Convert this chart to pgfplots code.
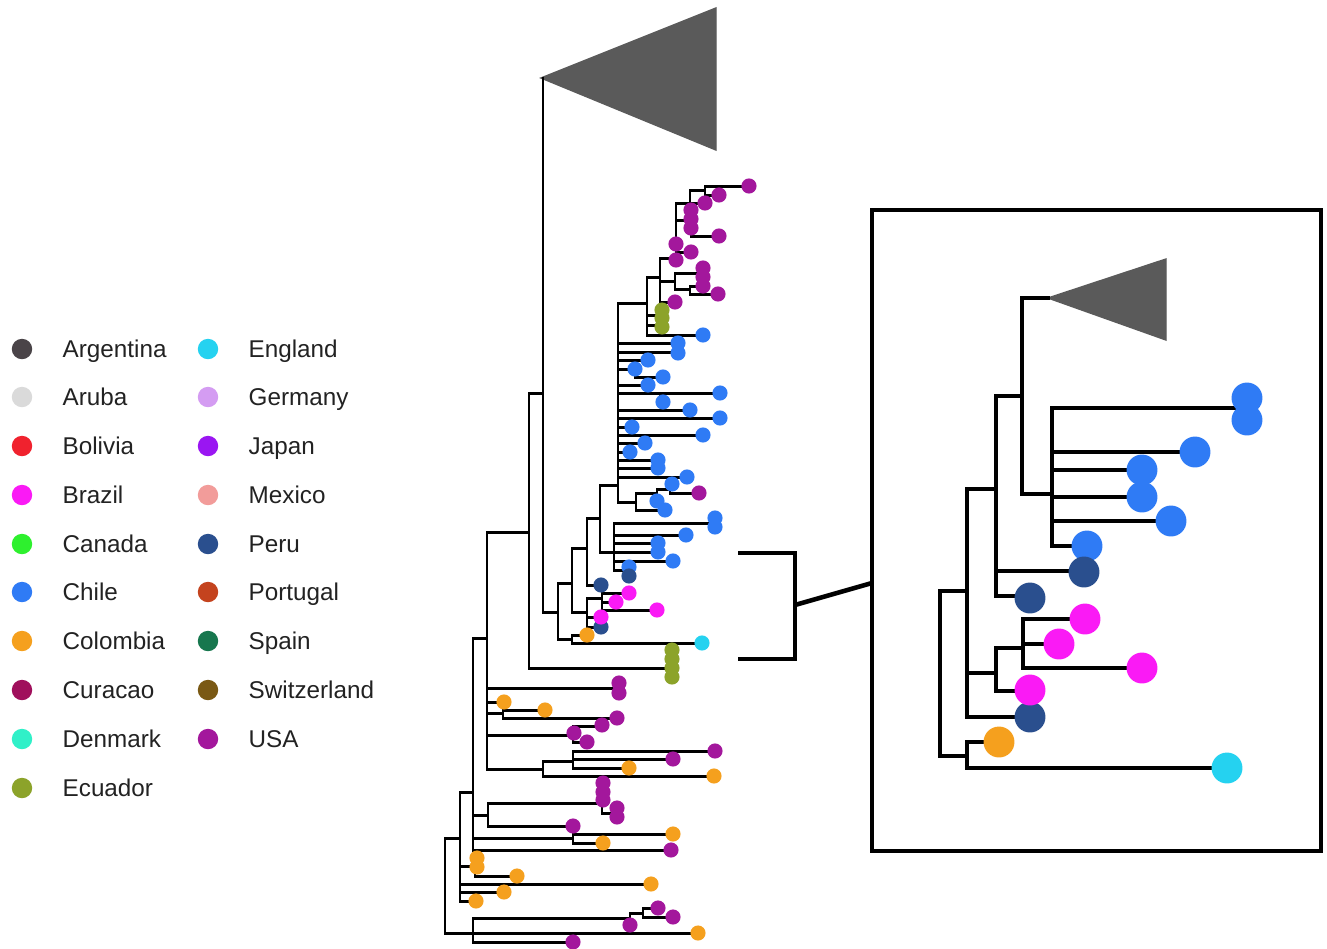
\documentclass[border=0pt]{standalone}
\usepackage{pgfplots}
\pgfplotsset{compat=1.18}
\usepackage{fontspec}
\setmainfont{Liberation Sans}
\definecolor{cArg}{HTML}{4A4448}
\definecolor{cAru}{HTML}{DADADA}
\definecolor{cBol}{HTML}{F0222E}
\definecolor{cBra}{HTML}{FA1AF5}
\definecolor{cCan}{HTML}{2EF02E}
\definecolor{cChi}{HTML}{2F7BF5}
\definecolor{cCol}{HTML}{F5A01E}
\definecolor{cCur}{HTML}{A0105C}
\definecolor{cDen}{HTML}{30F0C8}
\definecolor{cEcu}{HTML}{8CA32A}
\definecolor{cEng}{HTML}{25D2F0}
\definecolor{cGer}{HTML}{D49CF2}
\definecolor{cJap}{HTML}{9A16F2}
\definecolor{cMex}{HTML}{F29C9A}
\definecolor{cPer}{HTML}{2A4F8E}
\definecolor{cPor}{HTML}{C4431E}
\definecolor{cSpa}{HTML}{17774E}
\definecolor{cSwi}{HTML}{7A5914}
\definecolor{cUSA}{HTML}{A3179C}
\definecolor{cTri}{HTML}{5A5A5A}
\definecolor{cTxt}{HTML}{222222}
\pgfplotsset{
  tree/.style={black, line width=0.85pt, line cap=rect, mark=none},
  itree/.style={black, line width=1.3pt, line cap=rect, mark=none},
  dot/.style={only marks, mark=*, color=#1, mark size=1.95pt},
  idot/.style={only marks, mark=*, color=#1, mark size=4.2pt},
  ldot/.style={only marks, mark=*, color=#1, mark size=2.7pt},
}
\begin{document}
\begin{tikzpicture}
\begin{axis}[width=13.27cm, height=9.46cm, scale only axis,
  xmin=0, xmax=1327, ymin=0, ymax=946, y dir=reverse,
  axis lines=none, clip=false, unbounded coords=jump]
\addplot[draw=none, mark=none] coordinates {(0,0) (1327,946)};
% collapsed clade triangles
\addplot[fill=cTri, draw=cTri, mark=none] coordinates {(541,78) (716,8) (716,150)} --cycle;
\addplot[fill=cTri, draw=cTri, mark=none] coordinates {(1048,298) (1166,259) (1166,340)} --cycle;
% main tree
\addplot[tree] coordinates {
(445,838)(445,933) (nan,nan) (445,838)(460,838) (nan,nan) (445,933)(473,933) (nan,nan)
(473,918)(473,942) (nan,nan) (473,918)(630,918) (nan,nan) (630,913)(630,925) (nan,nan)
(630,913)(643,913) (nan,nan) (643,908)(643,917) (nan,nan) (643,908)(658,908) (nan,nan)
(643,917)(673,917) (nan,nan) (473,933)(698,933) (nan,nan) (473,942)(573,942) (nan,nan)
(460,792)(460,901) (nan,nan) (460,792)(473,792) (nan,nan) (460,866)(475,866) (nan,nan)
(475,858)(475,876) (nan,nan) (475,876)(517,876) (nan,nan) (460,884)(651,884) (nan,nan)
(460,892)(504,892) (nan,nan) (460,901)(476,901) (nan,nan)
(473,638)(473,850) (nan,nan) (473,638)(487,638) (nan,nan) (473,815)(488,815) (nan,nan)
(488,803)(488,826) (nan,nan) (488,803)(602,803) (nan,nan) (602,783)(602,813) (nan,nan)
(602,813)(617,813) (nan,nan) (617,808)(617,817) (nan,nan) (488,826)(573,826) (nan,nan)
(473,838)(573,838) (nan,nan) (573,834)(573,843) (nan,nan) (573,834)(673,834) (nan,nan)
(573,843)(603,843) (nan,nan) (473,850)(671,850) (nan,nan)
(487,532)(487,769) (nan,nan) (487,532)(529,532) (nan,nan) (487,688)(619,688) (nan,nan)
(487,702)(504,702) (nan,nan) (487,713)(503,713) (nan,nan) (503,710)(503,718) (nan,nan)
(503,710)(545,710) (nan,nan) (503,718)(617,718) (nan,nan) (487,735)(573,735) (nan,nan)
(573,726)(573,742) (nan,nan) (573,726)(602,726) (nan,nan) (573,742)(587,742) (nan,nan)
(487,769)(543,769) (nan,nan) (543,761)(543,776) (nan,nan) (543,761)(573,761) (nan,nan)
(573,751)(573,768) (nan,nan) (573,751)(715,751) (nan,nan) (573,759)(673,759) (nan,nan)
(573,768)(629,768) (nan,nan) (543,776)(714,776) (nan,nan)
(529,393)(529,668) (nan,nan) (529,393)(543,393) (nan,nan) (529,668)(672,668) (nan,nan)
(543,78)(543,612) (nan,nan) (543,612)(558,612) (nan,nan) (558,583)(558,639) (nan,nan)
(558,583)(572,583) (nan,nan) (572,548)(572,612) (nan,nan) (572,548)(587,548) (nan,nan)
(587,518)(587,585) (nan,nan) (587,518)(600,518) (nan,nan) (600,485)(600,552) (nan,nan)
(600,485)(618,485) (nan,nan) (600,552)(614,552) (nan,nan) (614,523)(614,570) (nan,nan)
(614,523)(714,523) (nan,nan) (714,518)(714,527) (nan,nan) (614,535)(686,535) (nan,nan)
(614,543)(658,543) (nan,nan) (614,552)(658,552) (nan,nan) (614,561)(673,561) (nan,nan)
(614,570)(627,570) (nan,nan) (627,567)(627,576) (nan,nan) (587,585)(601,585) (nan,nan)
(572,612)(587,612) (nan,nan) (587,598)(587,627) (nan,nan) (587,598)(602,598) (nan,nan)
(602,593)(602,610) (nan,nan) (602,593)(629,593) (nan,nan) (602,602)(616,602) (nan,nan)
(602,610)(657,610) (nan,nan) (587,617)(601,617) (nan,nan) (587,627)(601,627) (nan,nan)
(558,639)(572,639) (nan,nan) (572,635)(572,643) (nan,nan) (572,635)(587,635) (nan,nan)
(572,643)(702,643) (nan,nan)
(618,303)(618,502) (nan,nan) (618,303)(647,303) (nan,nan) (618,343)(678,343) (nan,nan)
(618,352)(678,352) (nan,nan) (618,360)(648,360) (nan,nan) (618,369)(635,369) (nan,nan)
(635,369)(635,377) (nan,nan) (635,377)(663,377) (nan,nan) (618,385)(648,385) (nan,nan)
(618,393)(720,393) (nan,nan) (660,393)(660,402) (nan,nan) (618,410)(690,410) (nan,nan)
(618,418)(720,418) (nan,nan) (618,427)(632,427) (nan,nan) (618,435)(703,435) (nan,nan)
(618,443)(645,443) (nan,nan) (618,452)(630,452) (nan,nan) (618,460)(658,460) (nan,nan)
(618,468)(658,468) (nan,nan) (618,477)(687,477) (nan,nan) (618,502)(636,502) (nan,nan)
(636,493)(636,510) (nan,nan) (636,493)(657,493) (nan,nan) (657,489)(657,501) (nan,nan)
(657,489)(670,489) (nan,nan) (670,484)(670,493) (nan,nan) (670,493)(699,493) (nan,nan)
(636,510)(665,510) (nan,nan)
(647,277)(647,335) (nan,nan) (647,277)(660,277) (nan,nan) (647,315)(662,315) (nan,nan)
(647,325)(662,325) (nan,nan) (647,335)(703,335) (nan,nan)
(660,258)(660,302) (nan,nan) (660,258)(676,258) (nan,nan) (660,281)(675,281) (nan,nan)
(660,302)(675,302) (nan,nan) (675,273)(675,289) (nan,nan) (675,273)(703,273) (nan,nan)
(675,289)(690,289) (nan,nan) (690,286)(690,294) (nan,nan) (690,286)(703,286) (nan,nan)
(690,294)(718,294) (nan,nan)
(676,203)(676,260) (nan,nan) (676,203)(705,203) (nan,nan) (690,190)(690,203) (nan,nan)
(690,190)(705,190) (nan,nan) (705,186)(705,195) (nan,nan) (705,186)(749,186) (nan,nan)
(705,195)(719,195) (nan,nan) (676,220)(691,220) (nan,nan) (691,210)(691,236) (nan,nan)
(691,236)(719,236) (nan,nan) (676,252)(691,252)
};
% bracket and connector
\addplot[itree, line cap=butt] coordinates {(738,553)(795,553)(795,659)(738,659)};
\addplot[itree, line cap=butt] coordinates {(795,605)(872,583)};
% inset box
\addplot[itree, line cap=butt] coordinates {(872,210)(1321,210)(1321,851)(872,851)} --cycle;
% inset tree
\addplot[itree] coordinates {
(1022,298)(1048,298) (nan,nan) (1022,298)(1022,494) (nan,nan) (1022,494)(1052,494) (nan,nan)
(1052,408)(1052,546) (nan,nan) (1052,408)(1235,408) (nan,nan) (1052,452)(1195,452) (nan,nan)
(1052,470)(1142,470) (nan,nan) (1052,497)(1142,497) (nan,nan) (1052,521)(1171,521) (nan,nan)
(1052,546)(1087,546) (nan,nan)
(996,396)(996,596) (nan,nan) (996,396)(1022,396) (nan,nan) (996,571)(1084,571) (nan,nan)
(996,596)(1030,596) (nan,nan)
(967,489)(967,717) (nan,nan) (967,489)(996,489) (nan,nan) (967,673)(996,673) (nan,nan)
(996,648)(996,691) (nan,nan) (996,648)(1023,648) (nan,nan) (1023,619)(1023,668) (nan,nan)
(1023,619)(1085,619) (nan,nan) (1023,644)(1059,644) (nan,nan) (1023,668)(1142,668) (nan,nan)
(996,691)(1030,691) (nan,nan) (967,717)(1030,717) (nan,nan)
(940,591)(940,756) (nan,nan) (940,591)(967,591) (nan,nan) (940,756)(967,756) (nan,nan)
(967,742)(967,768) (nan,nan) (967,742)(999,742) (nan,nan) (967,768)(1227,768)
};
% main tree tips
\addplot[dot=cUSA] coordinates {(658,908)(673,917)(630,925)(573,942)(603,783)(603,792)(603,800)(617,808)(617,817)(573,826)(671,850)(619,683)(619,693)(617,718)(602,725)(574,733)(587,742)(715,751)(673,759)(699,493)(749,186)(719,195)(705,203)(691,210)(691,219)(691,228)(719,236)(676,244)(691,252)(676,260)(703,268)(703,277)(703,286)(718,294)(675,302)};
\addplot[dot=cCol] coordinates {(698,933)(477,858)(477,867)(517,876)(651,884)(504,892)(476,901)(673,834)(603,843)(504,702)(545,710)(629,768)(714,776)(587,635)};
\addplot[dot=cEcu] coordinates {(672,650)(672,659)(672,668)(672,677)(662,310)(662,318)(662,327)};
\addplot[dot=cChi] coordinates {(703,335)(678,343)(678,353)(648,360)(635,369)(663,377)(648,385)(720,393)(663,402)(690,410)(720,418)(632,427)(703,435)(645,443)(630,452)(658,460)(658,468)(687,477)(672,484)(657,501)(665,510)(715,518)(715,527)(686,535)(658,543)(658,552)(673,561)(629,567)};
\addplot[dot=cPer] coordinates {(629,576)(601,585)(601,627)};
\addplot[dot=cBra] coordinates {(629,593)(616,602)(657,610)(601,617)};
\addplot[dot=cEng] coordinates {(702,643)};
% inset tips
\addplot[idot=cChi] coordinates {(1247,398)(1247,420)(1195,452)(1142,470)(1142,497)(1171,521)(1087,546)};
\addplot[idot=cPer] coordinates {(1084,572)(1030,598)(1030,717)};
\addplot[idot=cBra] coordinates {(1085,619)(1059,644)(1142,668)(1030,690)};
\addplot[idot=cCol] coordinates {(999,742)};
\addplot[idot=cEng] coordinates {(1227,768)};
% legend
\addplot[ldot=cArg] coordinates {(22,349)};
\addplot[ldot=cAru] coordinates {(22,397)};
\addplot[ldot=cBol] coordinates {(22,446)};
\addplot[ldot=cBra] coordinates {(22,495)};
\addplot[ldot=cCan] coordinates {(22,544)};
\addplot[ldot=cChi] coordinates {(22,592)};
\addplot[ldot=cCol] coordinates {(22,641)};
\addplot[ldot=cCur] coordinates {(22,690)};
\addplot[ldot=cDen] coordinates {(22,739)};
\addplot[ldot=cEcu] coordinates {(22,788)};
\addplot[ldot=cEng] coordinates {(208,349)};
\addplot[ldot=cGer] coordinates {(208,397)};
\addplot[ldot=cJap] coordinates {(208,446)};
\addplot[ldot=cMex] coordinates {(208,495)};
\addplot[ldot=cPer] coordinates {(208,544)};
\addplot[ldot=cPor] coordinates {(208,592)};
\addplot[ldot=cSpa] coordinates {(208,641)};
\addplot[ldot=cSwi] coordinates {(208,690)};
\addplot[ldot=cUSA] coordinates {(208,739)};
\begin{scope}[every node/.style={anchor=base west, inner sep=0pt, text=cTxt, font=\fontsize{6.9}{8}\selectfont}]
\node at (62,357.5) {Argentina};
\node at (62,405.5) {Aruba};
\node at (62,454.5) {Bolivia};
\node at (62,503.5) {Brazil};
\node at (62,552.5) {Canada};
\node at (62,600.5) {Chile};
\node at (62,649.5) {Colombia};
\node at (62,698.5) {Curacao};
\node at (62,747.5) {Denmark};
\node at (62,796.5) {Ecuador};
\node at (248,357.5) {England};
\node at (248,405.5) {Germany};
\node at (248,454.5) {Japan};
\node at (248,503.5) {Mexico};
\node at (248,552.5) {Peru};
\node at (248,600.5) {Portugal};
\node at (248,649.5) {Spain};
\node at (248,698.5) {Switzerland};
\node at (248,747.5) {USA};
\end{scope}
\end{axis}
\end{tikzpicture}
\end{document}
